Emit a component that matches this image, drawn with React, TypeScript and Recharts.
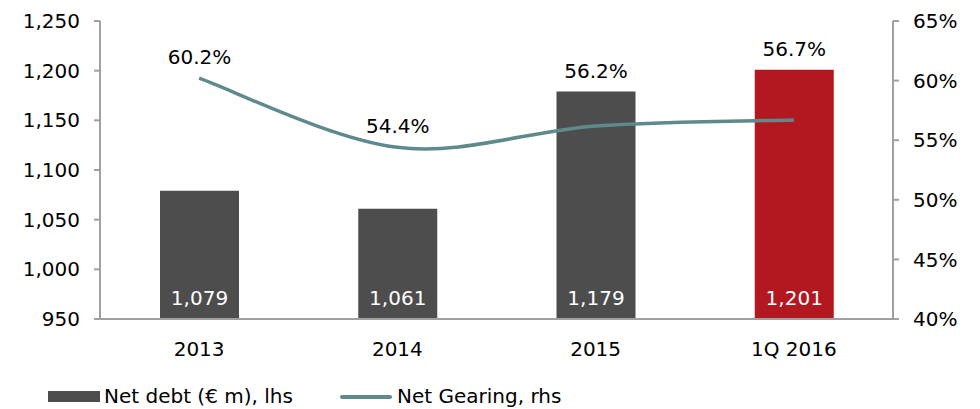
import React from "react";
import { ComposedChart, Bar, Line, XAxis, YAxis, Cell, LabelList, Legend } from "recharts";

const categories = ["2013", "2014", "2015", "1Q 2016"];
const netDebt = [1079, 1061, 1179, 1201];
const netGearing = [60.2, 54.4, 56.2, 56.7];
const leftTicks = [950, 1000, 1050, 1100, 1150, 1200, 1250];
const rightTicks = [40, 45, 50, 55, 60, 65];

const data = categories.map((c, i) => ({ name: c, debt: netDebt[i], gearing: netGearing[i] }));

const FONT = "'DejaVu Sans', Verdana, sans-serif";
const FS = 20;
const BAR = "#4d4d4d";
const RED = "#b3171f";
const LINE = "#5e8a8c";
const AXIS = "#a0a0a0";

const fmt = (v: number) => v.toLocaleString("en-US");

// Excel-style smoothed curve (Catmull-Rom Bezier)
const excelCurve: any = (context: any) => {
  let pts: number[][] = [];
  return {
    areaStart() {},
    areaEnd() {},
    lineStart() {
      pts = [];
    },
    point(x: number, y: number) {
      pts.push([+x, +y]);
    },
    lineEnd() {
      const n = pts.length;
      if (!n) return;
      context.moveTo(pts[0][0], pts[0][1]);
      for (let i = 0; i < n - 1; i++) {
        const p0 = pts[Math.max(i - 1, 0)];
        const p1 = pts[i];
        const p2 = pts[i + 1];
        const p3 = pts[Math.min(i + 2, n - 1)];
        context.bezierCurveTo(
          p1[0] + (p2[0] - p0[0]) / 6,
          p1[1] + (p2[1] - p0[1]) / 6,
          p2[0] - (p3[0] - p1[0]) / 6,
          p2[1] - (p3[1] - p1[1]) / 6,
          p2[0],
          p2[1]
        );
      }
    },
  };
};

const BarValueLabel = (props: any) => {
  const { x, y, width, height, value } = props;
  return (
    <text x={x + width / 2} y={y + height - 14} textAnchor="middle" fill="#ffffff" fontSize={FS} fontFamily={FONT}>
      {fmt(value)}
    </text>
  );
};

const PctLabel = (props: any) => {
  const { x, y, width, height, value, index } = props;
  const ppu = height / (value - leftTicks[0]);
  const bottom = y + height;
  const plotH = (leftTicks[leftTicks.length - 1] - leftTicks[0]) * ppu;
  const pct = netGearing[index];
  const pY = bottom - ((pct - rightTicks[0]) / (rightTicks[rightTicks.length - 1] - rightTicks[0])) * plotH;
  const top = Math.min(y, pY);
  return (
    <text x={x + width / 2} y={top - 14} textAnchor="middle" fill="#000" fontSize={FS} fontFamily={FONT}>
      {pct.toFixed(1) + "%"}
    </text>
  );
};

const LegendContent = () => (
  <div style={{ position: "relative", height: 50, fontFamily: FONT, fontSize: FS, color: "#000" }}>
    <div style={{ position: "absolute", left: 48, top: 32, width: 52, height: 11, background: BAR }} />
    <div style={{ position: "absolute", left: 104, top: 25, lineHeight: "24px", whiteSpace: "nowrap" }}>Net debt (€ m), lhs</div>
    <div style={{ position: "absolute", left: 340, top: 36, width: 52, height: 4, borderRadius: 2, background: LINE }} />
    <div style={{ position: "absolute", left: 397, top: 25, lineHeight: "24px", whiteSpace: "nowrap" }}>Net Gearing, rhs</div>
  </div>
);

export default function App() {
  return (
    <div style={{ position: "absolute", left: 0, top: 0, width: 980, height: 409, background: "#fff" }}>
      <ComposedChart width={980} height={409} data={data} margin={{ top: 21, right: 0, bottom: 0, left: 0 }} barCategoryGap="30%">
        <XAxis
          dataKey="name"
          height={40}
          tickLine={false}
          axisLine={{ stroke: AXIS, strokeWidth: 2 }}
          tick={{ fill: "#000", fontSize: FS, fontFamily: FONT }}
          tickMargin={17}
        />
        <YAxis
          yAxisId="left"
          width={100}
          domain={[950, 1250]}
          ticks={leftTicks}
          tickFormatter={fmt}
          axisLine={{ stroke: AXIS, strokeWidth: 2 }}
          tickLine={{ stroke: AXIS, strokeWidth: 2 }}
          tickSize={6}
          tickMargin={14}
          tick={{ fill: "#000", fontSize: FS, fontFamily: FONT }}
          interval={0}
        />
        <YAxis
          yAxisId="right"
          orientation="right"
          width={87}
          domain={[40, 65]}
          ticks={rightTicks}
          tickFormatter={(v: number) => v + "%"}
          axisLine={{ stroke: AXIS, strokeWidth: 2 }}
          tickLine={{ stroke: AXIS, strokeWidth: 2 }}
          tickSize={6}
          tickMargin={14}
          tick={{ fill: "#000", fontSize: FS, fontFamily: FONT }}
          interval={0}
        />
        <Legend verticalAlign="bottom" height={50} content={<LegendContent />} wrapperStyle={{ left: 0, width: 980 }} />
        <Bar yAxisId="left" dataKey="debt" isAnimationActive={false} barSize={79}>
          {data.map((d, i) => (
            <Cell key={d.name} fill={i === data.length - 1 ? RED : BAR} />
          ))}
          <LabelList dataKey="debt" content={<BarValueLabel />} />
          <LabelList dataKey="debt" content={<PctLabel />} />
        </Bar>
        <Line
          yAxisId="right"
          dataKey="gearing"
          type={excelCurve}
          stroke={LINE}
          strokeWidth={3.5}
          dot={false}
          isAnimationActive={false}
        />
      </ComposedChart>
    </div>
  );
}
